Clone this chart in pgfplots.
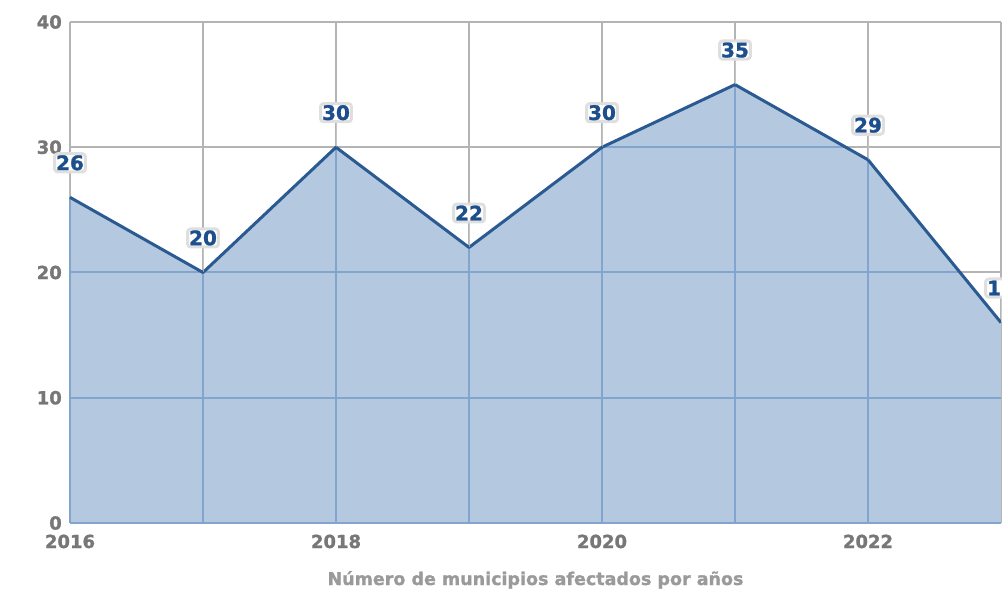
\documentclass[border=0pt]{standalone}
\usepackage{pgfplots}
\pgfplotsset{compat=1.18}
\usepackage{pgfplotstable}
\usepackage{fontspec}
\setmainfont{DejaVu Sans}[BoldFeatures={FakeBold=1.2}]
\definecolor{fillc}{HTML}{B4C9DF}
\definecolor{linec}{HTML}{2A5A91}
\definecolor{gridg}{HTML}{B4B4B4}
\definecolor{gridb}{HTML}{82A5CF}
\definecolor{labc}{HTML}{1D4F8C}
\definecolor{tickc}{HTML}{777777}
\definecolor{titc}{HTML}{9A9A9A}
\pgfplotstableread{
year val
2016 26
2017 20
2018 30
2019 22
2020 30
2021 35
2022 29
2023 16
}\data
\begin{document}
\begin{tikzpicture}
\begin{axis}[
  /pgf/number format/assume math mode=true,
  scale only axis, width=931pt, height=501pt,
  xmin=2016, xmax=2023, ymin=0, ymax=40,
  xtick={2016,2018,2020,2022}, minor xtick={2017,2019,2021,2023},
  ytick={0,10,20,30,40},
  grid=both,
  major grid style={gridg, line width=2pt},
  minor grid style={gridg, line width=2pt},
  axis line style={draw=none}, tick style={draw=none},
  xticklabel style={/pgf/number format/1000 sep={}, font=\fontsize{18}{18}\selectfont\bfseries, text=tickc, anchor=base, inner sep=0pt, yshift=-25pt},
  yticklabel style={font=\fontsize{18}{18}\selectfont\bfseries, text=tickc, anchor=east, inner sep=0pt, xshift=-8pt},
  clip=false,
]
\addplot[fill=fillc, draw=none] table[x=year, y=val] {\data} \closedcycle;
% grid lines seen through the filled area
\addplot[gridb, line width=2pt] coordinates {(2016,0) (2016,26)};
\addplot[gridb, line width=2pt] coordinates {(2017,0) (2017,20)};
\addplot[gridb, line width=2pt] coordinates {(2018,0) (2018,30)};
\addplot[gridb, line width=2pt] coordinates {(2019,0) (2019,22)};
\addplot[gridb, line width=2pt] coordinates {(2020,0) (2020,30)};
\addplot[gridb, line width=2pt] coordinates {(2021,0) (2021,35)};
\addplot[gridb, line width=2pt] coordinates {(2022,0) (2022,29)};
\addplot[gridb, line width=2pt] coordinates {(2016,0) (2023,0)};
\addplot[gridb, line width=2pt] coordinates {(2016,10) (2023,10)};
\addplot[gridb, line width=2pt] coordinates {(2016,20) (2022.692,20)};
\addplot[gridb, line width=2pt] coordinates {(2020,30) (2021.833,30)};
% connectors of the value labels
\addplot[draw=none, nodes near coords={},
  every node near coord/.style={anchor=south, inner sep=0pt, minimum width=0pt, minimum height=24pt, draw=gray!40, line width=1pt}
] table[x=year, y=val] {\data};
\addplot[linec, line width=3pt, line join=round,
  nodes near coords,
  every node near coord/.append style={anchor=south, yshift=24pt, fill=white, draw=gray!25, rounded corners=3pt, inner sep=1.5pt, text=labc, font=\fontsize{20}{20}\selectfont\bfseries}
] table[x=year, y=val] {\data};
\node[font=\fontsize{17.5}{18}\selectfont\bfseries, text=titc, anchor=base, inner sep=0pt, yshift=-62pt] at (rel axis cs:0.5,0) {Número de municipios afectados por años};
\coordinate (sw) at (rel axis cs:0,0);
\coordinate (ne) at (rel axis cs:1,1);
\end{axis}
\pgfresetboundingbox
\path ([shift={(-70pt,-73pt)}]sw) rectangle ([shift={(1pt,22pt)}]ne);
\end{tikzpicture}
\end{document}
